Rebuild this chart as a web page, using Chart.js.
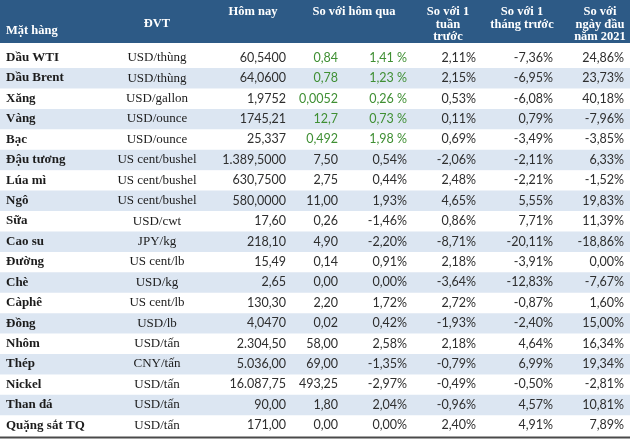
<!DOCTYPE html>
<html>
<head>
<meta charset="utf-8">
<script src="https://cdn.jsdelivr.net/npm/chart.js@4/dist/chart.umd.min.js"></script>
<style>
  html, body { margin: 0; padding: 0; background: #ffffff; }
  #wrap { width: 630px; height: 441px; }
</style>
</head>
<body>
<div id="wrap"><canvas id="c" width="630" height="441"></canvas></div>
<script>
const commodities = ["Dầu WTI","Dầu Brent","Xăng","Vàng","Bạc","Đậu tương","Lúa mì","Ngô","Sữa","Cao su","Đường","Chè","Càphê","Đồng","Nhôm","Thép","Nickel","Than đá","Quặng sắt TQ"];
const units = ["USD/thùng","USD/thùng","USD/gallon","USD/ounce","USD/ounce","US cent/bushel","US cent/bushel","US cent/bushel","USD/cwt","JPY/kg","US cent/lb","USD/kg","US cent/lb","USD/lb","USD/tấn","CNY/tấn","USD/tấn","USD/tấn","USD/tấn"];
const today = ["60,5400","64,0600","1,9752","1745,21","25,337","1.389,5000","630,7500","580,0000","17,60","218,10","15,49","2,65","130,30","4,0470","2.304,50","5.036,00","16.087,75","90,00","171,00"];
const changeDay = ["0,84","0,78","0,0052","12,7","0,492","7,50","2,75","11,00","0,26","4,90","0,14","0,00","2,20","0,02","58,00","69,00","493,25","1,80","0,00"];
const changeDayPct = ["1,41 %","1,23 %","0,26 %","0,73 %","1,98 %","0,54%","0,44%","1,93%","-1,46%","-2,20%","0,91%","0,00%","1,72%","0,42%","2,58%","-1,35%","-2,97%","2,04%","0,00%"];
const changeWeek = ["2,11%","2,15%","0,53%","0,11%","0,69%","-2,06%","2,48%","4,65%","0,86%","-8,71%","2,18%","-3,64%","2,72%","-1,93%","2,18%","-0,79%","-0,49%","-0,96%","2,40%"];
const changeMonth = ["-7,36%","-6,95%","-6,08%","0,79%","-3,49%","-2,11%","-2,21%","5,55%","7,71%","-20,11%","-3,91%","-12,83%","-0,87%","-2,40%","4,64%","6,99%","-0,50%","4,57%","4,91%"];
const changeYTD = ["24,86%","23,73%","40,18%","-7,96%","-3,85%","6,33%","-1,52%","19,83%","11,39%","-18,86%","0,00%","-7,67%","1,60%","15,00%","16,34%","19,34%","-2,81%","10,81%","7,89%"];
const greenRows = ["Dầu WTI","Dầu Brent","Xăng","Vàng","Bạc"];

// ---- Styling / layout ----
const HEADER_BG = "#2d5a86";
const HEADER_H = 43;
const STRIPE = "#dce6f2";
const GREEN = "#3f8f33";
const TEXT = "#1c1c1c";
const NUM = "#2e2e2e";
const SERIF = "'Liberation Serif', 'Times New Roman', serif";
const SANS = "Lato, 'Liberation Sans', sans-serif";

const columns = [
  { key: commodities, x: 6,   align: "left",   font: "bold 13px " + SERIF, color: () => TEXT },
  { key: units,       x: 157, align: "center", font: "13px " + SERIF,       color: () => TEXT },
  { key: today,       x: 286, align: "right",  font: "12.5px " + SANS,      color: () => NUM },
  { key: changeDay,   x: 338, align: "right",  font: "12.5px " + SANS,      color: i => greenRows.includes(commodities[i]) ? GREEN : NUM },
  { key: changeDayPct,x: 407, align: "right",  font: "12.5px " + SANS,      color: i => greenRows.includes(commodities[i]) ? GREEN : NUM },
  { key: changeWeek,  x: 476, align: "right",  font: "12.5px " + SANS,      color: () => NUM },
  { key: changeMonth, x: 553, align: "right",  font: "12.5px " + SANS,      color: () => NUM },
  { key: changeYTD,   x: 624, align: "right",  font: "12.5px " + SANS,      color: () => NUM }
];

const headers = [
  { lines: ["Mặt hàng"], x: 6, align: "left", y: [31] },
  { lines: ["ĐVT"], x: 157, align: "center", y: [24] },
  { lines: ["Hôm nay"], x: 253, align: "center", y: [12] },
  { lines: ["So với hôm qua"], x: 354, align: "center", y: [12] },
  { lines: ["So với 1", "tuần", "trước"], x: 448, align: "center", y: [12, 24.5, 37] },
  { lines: ["So với 1", "tháng trước"], x: 522, align: "center", y: [12, 24.5] },
  { lines: ["So với", "ngày đầu", "năm 2021"], x: 600, align: "center", y: [12, 24.5, 37] }
];

const tablePlugin = {
  id: "tablePlugin",
  beforeDraw(chart) {
    const { ctx, width } = chart;
    ctx.save();
    ctx.fillStyle = "#ffffff";
    ctx.fillRect(0, 0, width, chart.height);
    ctx.fillStyle = HEADER_BG;
    ctx.fillRect(0, 0, width, HEADER_H);
    ctx.fillStyle = "#ffffff";
    ctx.font = "bold 12.5px " + SERIF;
    ctx.textBaseline = "middle";
    const xs = chart.scales.x;
    headers.forEach(h => {
      ctx.textAlign = h.align;
      h.lines.forEach((t, j) => ctx.fillText(t, xs.getPixelForValue(h.x), h.y[j]));
    });
    ctx.restore();
  },
  afterDatasetsDraw(chart) {
    const { ctx, chartArea } = chart;
    const xs = chart.scales.x, ys = chart.scales.y;
    ctx.save();
    ctx.textBaseline = "middle";
    commodities.forEach((_, i) => {
      const y = ys.getPixelForValue(i) - 0.5;
      columns.forEach(col => {
        ctx.font = col.font;
        ctx.textAlign = col.align;
        ctx.fillStyle = col.color(i);
        ctx.fillText(col.key[i], xs.getPixelForValue(col.x), y);
      });
    });
    ctx.strokeStyle = "#4a4a4a";
    ctx.lineWidth = 2;
    ctx.beginPath();
    ctx.moveTo(chartArea.left, chartArea.bottom + 1.5);
    ctx.lineTo(chartArea.right, chartArea.bottom + 1.5);
    ctx.stroke();
    ctx.restore();
  }
};

new Chart(document.getElementById("c"), {
  type: "bar",
  data: {
    labels: commodities,
    datasets: [{
      data: commodities.map(() => [0, 630]),
      backgroundColor: commodities.map((_, i) => i % 2 === 1 ? STRIPE : "#ffffff"),
      borderWidth: 0,
      borderSkipped: false,
      barPercentage: 1,
      categoryPercentage: 1
    }]
  },
  options: {
    indexAxis: "y",
    responsive: false,
    animation: false,
    layout: { padding: { top: 48, bottom: 5, left: 0, right: 0 } },
    plugins: { legend: { display: false }, tooltip: { enabled: false } },
    scales: {
      x: { type: "linear", min: 0, max: 630, display: false },
      y: { type: "category", display: false, offset: true, grid: { display: false } }
    }
  },
  plugins: [tablePlugin]
});
</script>
</body>
</html>
